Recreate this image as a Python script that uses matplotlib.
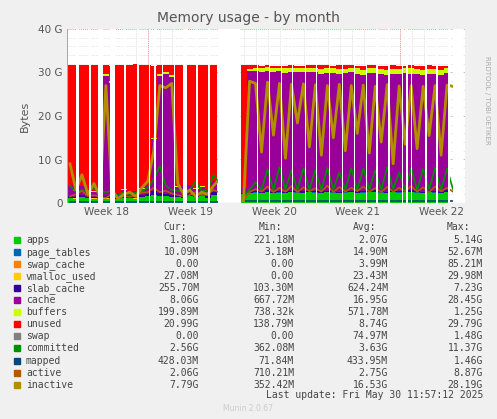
import numpy as np
import matplotlib
matplotlib.use("Agg")
import matplotlib.pyplot as plt

N = np.nan
# time in days from left edge, 0.5-day samples
t = np.arange(67) * 0.5

apps = [1.2,1.0,1.3,1.1,1.0,1.2, 1.0,1.1, 0.9,1.1,1.2,1.0,1.3,1.5,1.8,1.6,1.5,1.4,1.3,1.2, 1.6,1.3,1.5,1.2,1.8,1.4,
        N,N,N,
        2.0,2.3,2.4,2.2,2.5,2.3,2.4,2.2,2.5,2.4,2.3,2.5,2.4,2.3,2.5,2.4,2.2,2.4,2.5,2.3,2.4,2.6,2.5,2.4,2.3,2.5,2.4,2.6,2.5,2.4,2.3,2.5,2.4,2.3,2.5,2.4,
        N, 1.8]
page_tables = [0.02]*26 + [N]*3 + [0.015]*36 + [N, 0.01]
swap_cache = [0.0]*26 + [N]*3 + [0.0]*36 + [N, 0.0]
vmalloc_used = [0.025]*26 + [N]*3 + [0.025]*36 + [N, 0.027]
slab_cache = [0.4,0.3,0.5,0.3,0.3,0.4, 0.6,0.5, 0.3,0.4,0.3,0.3,0.4,0.5,0.8,0.6,0.6,0.5,0.4,0.4, 0.5,0.4,0.4,0.3,0.6,0.5,
              N,N,N,
              0.3,0.4,0.3,0.3,0.4,0.3,0.3,0.4,0.3,0.3,0.4,0.3,0.3,0.4,0.3,0.3,0.4,0.3,0.3,0.4,0.3,0.3,0.4,0.3,0.3,0.4,0.3,0.3,0.4,0.3,0.3,0.4,0.3,0.3,0.4,0.3,
              N, 0.26]
cache = [2.5,1.5,2.0,1.5,1.2,1.5, 27.5,26.0, 1.0,1.5,1.2,1.3,1.5,2.0,12.0,27.0,27.5,27.0,2.0,2.5, 2.0,1.5,1.8,1.6,2.5,8.0,
         N,N,N,
         1.0,27.5,27.6,27.5,27.4,27.4,27.5,27.3,27.2,27.3,27.4,27.2,27.3,27.0,27.1,27.2,27.0,27.1,27.2,27.0,26.8,27.0,26.9,27.0,26.7,26.8,26.9,27.0,26.8,26.9,26.7,26.8,27.0,26.8,26.9,26.7,
         N, 8.06]
buffers = [0.1,0.1,0.1,0.1,0.1,0.1, 0.5,0.4, 0.1,0.1,0.1,0.1,0.1,0.2,0.2,0.5,0.5,0.5,0.1,0.1, 0.1,0.1,0.1,0.1,0.1,0.2,
           N,N,N,
           0.1,0.6,0.8,0.9,0.9,1.0,0.9,1.0,1.1,1.0,1.0,1.1,1.0,1.1,1.2,1.0,1.1,1.0,1.1,1.2,1.1,1.0,1.2,1.1,1.2,1.1,1.2,1.1,1.2,1.1,1.2,1.1,1.1,1.2,1.1,1.2,
           N, 0.2]
unused = [27.4,28.7,27.7,28.6,29.0,28.4, 2.0,3.5, 29.3,28.5,28.8,29.2,28.3,27.4,16.6,1.9,1.5,2.2,27.8,27.4, 27.4,28.3,27.8,28.4,26.6,21.5,
          N,N,N,
          28.2,0.8,0.5,0.6,0.4,0.5,0.4,0.6,0.5,0.5,0.4,0.5,0.6,0.8,0.5,0.6,0.9,0.8,0.5,0.6,0.8,0.7,0.6,0.7,0.9,0.8,0.6,0.5,0.7,0.7,0.9,0.8,0.6,0.8,0.6,0.7,
          N, 21.0]
swap = [0.0]*26 + [N]*3 + [0.0]*36 + [N, 0.0]

committed = [4.0,2.5,3.0,2.6,3.5,2.8, 2.5,2.8, 1.8,2.5,2.0,2.4,2.7,3.5,5.5,8.5,4.0,3.0,2.8,2.6, 3.0,5.0,2.8,3.0,6.5,4.5,
             N,N,N,
             1.5,3.0,4.8,3.0,7.8,3.0,8.3,3.2,7.5,3.0,8.0,3.1,7.6,3.0,8.1,3.2,7.0,3.1,8.0,3.0,7.9,3.1,7.5,3.0,8.3,3.2,7.0,3.1,8.0,3.0,7.8,3.2,8.1,3.0,7.9,3.1,
             N, 2.56]
mapped = [0.3]*26 + [N]*3 + [0.45]*36 + [N, 0.43]
active = [1.5,2.0,2.8,1.6,1.8,1.4, 1.2,2.0, 1.0,1.6,1.4,1.8,2.4,2.5,3.5,2.5,2.8,2.2,1.8,1.5, 1.8,2.5,1.8,2.0,3.0,2.4,
          N,N,N,
          0.5,2.5,3.2,2.6,3.8,2.5,3.5,2.6,3.9,2.5,3.6,2.7,3.4,2.6,4.0,2.5,3.7,2.6,3.5,2.7,3.8,2.6,3.4,2.5,3.7,2.6,3.5,2.7,3.9,2.6,3.6,2.5,3.8,2.7,3.5,2.6,
          N, 2.06]
inactive = [9.0,3.0,6.5,2.0,4.5,1.5, 27.0,3.0, 1.0,2.0,2.5,1.5,3.5,5.0,12.0,27.0,26.5,27.5,4.5,2.0, 3.0,1.5,2.5,2.0,4.0,5.5,
            N,N,N,
            0.5,28.0,27.5,11.7,27.8,15.6,27.5,10.3,27.3,18.4,27.4,12.9,27.2,11.0,27.0,15.0,27.3,12.0,27.0,16.0,27.1,11.5,26.8,14.0,27.2,9.0,26.9,13.5,27.0,12.5,26.8,15.5,27.0,11.0,27.1,26.8,
            N, 7.79]

# no-data intervals (days)
gaps = [(0.78,0.98),(1.85,2.0),(2.62,3.02),(3.62,3.98),(4.8,4.95),(5.85,6.0),(6.85,6.95),(7.3,7.45),(7.95,8.05),
        (8.95,9.05),(9.72,10.05),(10.8,10.95),(11.8,11.95),(12.6,14.47),
        (15.85,15.97),(16.85,16.97),(17.85,17.97),(18.8,18.92),(19.85,19.97),(20.8,20.92),(21.85,21.97),
        (22.95,23.07),(23.95,24.07),(24.95,25.07),(25.85,25.97),(26.85,26.97),(27.95,28.05),(28.35,28.45),
        (28.75,28.85),(29.95,30.07),(30.85,30.97),(31.85,31.97),(32.27,33.1)]

stack_names = ["apps","page_tables","swap_cache","vmalloc_used","slab_cache","cache","buffers","unused","swap"]
stack_data = [apps,page_tables,swap_cache,vmalloc_used,slab_cache,cache,buffers,unused,swap]
line_names = ["committed","mapped","active","inactive"]
line_data = [committed,mapped,active,inactive]
colors = {"apps":"#00CC00","page_tables":"#0066B3","swap_cache":"#FF8000","vmalloc_used":"#FFCC00",
          "slab_cache":"#330099","cache":"#990099","buffers":"#CCFF00","unused":"#FF0000","swap":"#808080",
          "committed":"#008F00","mapped":"#00487D","active":"#B35A00","inactive":"#B38F00"}

cur = ["1.80G","10.09M","0.00","27.08M","255.70M","8.06G","199.89M","20.99G","0.00","2.56G","428.03M","2.06G","7.79G"]
mn = ["221.18M","3.18M","0.00","0.00","103.30M","667.72M","738.32k","138.79M","0.00","362.08M","71.84M","710.21M","352.42M"]
avg = ["2.07G","14.90M","3.99M","23.43M","624.24M","16.95G","571.78M","8.74G","74.97M","3.63G","433.95M","2.75G","16.53G"]
mx = ["5.14G","52.67M","85.21M","29.98M","7.23G","28.45G","1.25G","29.79G","1.48G","11.37G","1.46G","8.87G","28.19G"]

W, H = 497, 419
fig = plt.figure(figsize=(W/100, H/100), dpi=100, facecolor="#F0F0F0")
ax = fig.add_axes([67/W, 1-203/H, (465-67)/W, (203-29)/H])
ax.set_facecolor("white")

base = np.zeros(len(t))
for name, d in zip(stack_names, stack_data):
    d = np.array(d, dtype=float)
    top = base + d
    ax.fill_between(t, base, top, step="post", color=colors[name], linewidth=0, zorder=2)
    base = top
for name, d in zip(line_names, line_data):
    lw = 2.0 if name == "inactive" else 1.2
    ax.plot(t + 0.25, np.array(d, dtype=float), color=colors[name], lw=lw, zorder=3)
for a, b in gaps:
    ax.axvspan(a, b, color="white", lw=0, zorder=4)

x0, x1 = 0, 33.25
ax.set_xlim(x0, x1)
ax.set_ylim(0, 40)
# grid (behind data)
for d in np.arange(-0.2, x1, 1.0):
    ax.axvline(d, color="#DDDDDD", lw=0.6, ls=(0, (1, 1)), zorder=1)
for y in np.arange(2, 40, 2):
    ax.axhline(y, color="#DDDDDD", lw=0.6, ls=(0, (1, 1)), zorder=1)
for d in [6.8, 13.8, 20.8, 27.8]:
    ax.axvline(d, color="#E8A0A0", lw=0.7, ls=(0, (1, 1)), zorder=1)
for y in [10, 20, 30, 40]:
    ax.axhline(y, color="#E8A0A0", lw=0.7, ls=(0, (1, 1)), zorder=1)

ax.set_yticks([0, 10, 20, 30, 40])
ax.set_yticklabels(["0", "10 G", "20 G", "30 G", "40 G"])
ax.set_xticks([3.3, 10.3, 17.3, 24.3, 31.3])
ax.set_xticklabels(["Week 18", "Week 19", "Week 20", "Week 21", "Week 22"])
ax.tick_params(length=0, labelsize=7.5, colors="#555555", pad=3)
for s in ax.spines.values():
    s.set_visible(False)
ax.axhline(0, color="#AAAAAA", lw=0.8, zorder=6)
ax.axvline(x0, color="#AAAAAA", lw=0.8, zorder=6)
ax.set_ylabel("Bytes", fontsize=8, color="#555555", labelpad=6)

fig.text(248/W, 1-18/H, "Memory usage - by month", ha="center", va="center", fontsize=10, color="#555555")
fig.text(487/W, 1-100/H, "RRDTOOL / TOBI OETIKER", rotation=270, ha="center", va="center", fontsize=5, color="#AAAAAA")

mono = "DejaVu Sans Mono"
fs = 7
tc = "#444444"
fig.text(187/W, 1-227/H, "Cur:", ha="right", va="center", family=mono, fontsize=fs, color=tc)
fig.text(282/W, 1-227/H, "Min:", ha="right", va="center", family=mono, fontsize=fs, color=tc)
fig.text(376/W, 1-227/H, "Avg:", ha="right", va="center", family=mono, fontsize=fs, color=tc)
fig.text(470/W, 1-227/H, "Max:", ha="right", va="center", family=mono, fontsize=fs, color=tc)
names = stack_names + line_names
for k, name in enumerate(names):
    y = 1 - (240 + 12.05*k)/H
    fig.patches.append(plt.Rectangle((14/W, y-3/H), 6/W, 6/H, transform=fig.transFigure, color=colors[name]))
    fig.text(26/W, y, name, ha="left", va="center", family=mono, fontsize=fs, color=tc)
    fig.text(199/W, y, cur[k], ha="right", va="center", family=mono, fontsize=fs, color=tc)
    fig.text(294/W, y, mn[k], ha="right", va="center", family=mono, fontsize=fs, color=tc)
    fig.text(388/W, y, avg[k], ha="right", va="center", family=mono, fontsize=fs, color=tc)
    fig.text(483/W, y, mx[k], ha="right", va="center", family=mono, fontsize=fs, color=tc)
fig.text(483/W, 1-395/H, "Last update: Fri May 30 11:57:12 2025", ha="right", va="center", family=mono, fontsize=fs, color=tc)
fig.text(248/W, 1-408/H, "Munin 2.0.67", ha="center", va="center", fontsize=5.5, color="#CCCCCC")

fig.savefig("out.png", dpi=100, facecolor=fig.get_facecolor())
